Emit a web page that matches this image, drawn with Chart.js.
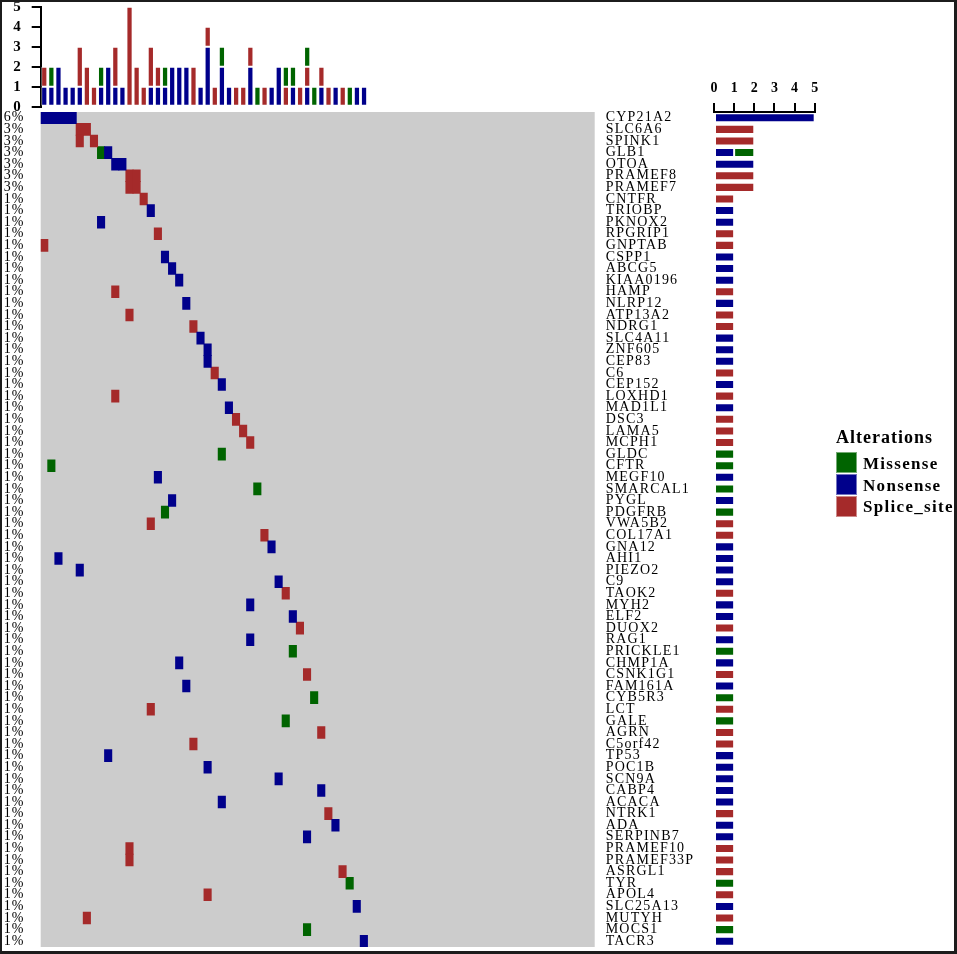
<!DOCTYPE html>
<html>
<head>
<meta charset="utf-8">
<title>Oncoplot</title>
<script src="https://cdn.jsdelivr.net/npm/chart.js@4.4.1/dist/chart.umd.min.js"></script>
<style>
  html, body { margin: 0; padding: 0; background: #fff; }
  #page { position: relative; width: 957px; height: 954px; overflow: hidden; background: #fff; font-family: "Liberation Serif", serif; color: #000; }
  #page canvas { position: absolute; }
  #topBars { left: 0; top: -14px; }
  #matrix { left: 0; top: 87px; }
  #geneBars { left: 690px; top: 60px; }
  #frame { position: absolute; left: 0; top: 0; width: 957px; height: 954px; box-sizing: border-box; border-style: solid; border-color: #1c1c1c; border-width: 2px 3px 3px 2px; pointer-events: none; }
  .lg { position: absolute; white-space: nowrap; font-weight: bold; }
  .lgTitle { left: 836px; top: 428px; font-size: 18px; line-height: 18px; letter-spacing: 1px; }
  .lgText { left: 863px; font-size: 17px; line-height: 17px; letter-spacing: 1.3px; }
  .sw { position: absolute; left: 836px; width: 21px; height: 21px; box-sizing: border-box; border: 1px solid rgba(255,255,255,0.45); }
</style>
</head>
<body>
<div id="page">
  <canvas id="matrix" width="705" height="885" style="width:705px;height:885px"></canvas>
  <canvas id="topBars" width="595" height="141" style="width:595px;height:141px"></canvas>
  <canvas id="geneBars" width="150" height="897" style="width:150px;height:897px"></canvas>

  <div class="lg lgTitle">Alterations</div>
  <div class="sw" style="top:452px;background:#006400"></div>
  <div class="sw" style="top:474px;background:#00008b"></div>
  <div class="sw" style="top:496px;background:#a52a2a"></div>
  <div class="lg lgText" style="top:455px">Missense</div>
  <div class="lg lgText" style="top:477px">Nonsense</div>
  <div class="lg lgText" style="top:498px">Splice_site</div>

  <div id="frame"></div>
</div>

<script>
// ---------- Utility ----------
function $(id) {
  return document.getElementById(id);
}

// ---------- Data ----------
const genes = [
  "CYP21A2", "SLC6A6", "SPINK1", "GLB1", "OTOA", "PRAMEF8", "PRAMEF7", "CNTFR",
  "TRIOBP", "PKNOX2", "RPGRIP1", "GNPTAB", "CSPP1", "ABCG5", "KIAA0196", "HAMP",
  "NLRP12", "ATP13A2", "NDRG1", "SLC4A11", "ZNF605", "CEP83", "C6", "CEP152",
  "LOXHD1", "MAD1L1", "DSC3", "LAMA5", "MCPH1", "GLDC", "CFTR", "MEGF10",
  "SMARCAL1", "PYGL", "PDGFRB", "VWA5B2", "COL17A1", "GNA12", "AHI1", "PIEZO2",
  "C9", "TAOK2", "MYH2", "ELF2", "DUOX2", "RAG1", "PRICKLE1", "CHMP1A",
  "CSNK1G1", "FAM161A", "CYB5R3", "LCT", "GALE", "AGRN", "C5orf42", "TP53",
  "POC1B", "SCN9A", "CABP4", "ACACA", "NTRK1", "ADA", "SERPINB7", "PRAMEF10",
  "PRAMEF33P", "ASRGL1", "TYR", "APOL4", "SLC25A13", "MUTYH", "MOCS1", "TACR3"
];

const pctLabels = [
  "6%", "3%", "3%", "3%", "3%", "3%", "3%", "1%", "1%", "1%", "1%", "1%", "1%", "1%", "1%", "1%",
  "1%", "1%", "1%", "1%", "1%", "1%", "1%", "1%", "1%", "1%", "1%", "1%", "1%", "1%", "1%", "1%",
  "1%", "1%", "1%", "1%", "1%", "1%", "1%", "1%", "1%", "1%", "1%", "1%", "1%", "1%", "1%", "1%",
  "1%", "1%", "1%", "1%", "1%", "1%", "1%", "1%", "1%", "1%", "1%", "1%", "1%", "1%", "1%", "1%",
  "1%", "1%", "1%", "1%", "1%", "1%", "1%", "1%"
];

// 78 samples, sample ids only (no tick labels drawn)
const sampleCount = 78;
const samples = [];
for (let i = 1; i <= sampleCount; i++) samples.push("S" + i);

// [gene, sample column]
const nonsenseHits = [
  ["CYP21A2", 0], ["CYP21A2", 1], ["CYP21A2", 2], ["CYP21A2", 3], ["CYP21A2", 4],
  ["GLB1", 9], ["OTOA", 10], ["OTOA", 11], ["TRIOBP", 15], ["PKNOX2", 8],
  ["CSPP1", 17], ["ABCG5", 18], ["KIAA0196", 19], ["NLRP12", 20], ["SLC4A11", 22],
  ["ZNF605", 23], ["CEP83", 23], ["CEP152", 25], ["MAD1L1", 26], ["MEGF10", 16],
  ["PYGL", 18], ["GNA12", 32], ["AHI1", 2], ["PIEZO2", 5], ["C9", 33],
  ["MYH2", 29], ["ELF2", 35], ["RAG1", 29], ["CHMP1A", 19], ["FAM161A", 20],
  ["TP53", 9], ["POC1B", 23], ["SCN9A", 33], ["CABP4", 39], ["ACACA", 25],
  ["ADA", 41], ["SERPINB7", 37], ["SLC25A13", 44], ["TACR3", 45]
];
const spliceHits = [
  ["SLC6A6", 5], ["SLC6A6", 6], ["SPINK1", 5], ["SPINK1", 7], ["PRAMEF8", 12],
  ["PRAMEF8", 13], ["PRAMEF7", 12], ["PRAMEF7", 13], ["CNTFR", 14], ["RPGRIP1", 16],
  ["GNPTAB", 0], ["HAMP", 10], ["ATP13A2", 12], ["NDRG1", 21], ["C6", 24],
  ["LOXHD1", 10], ["DSC3", 27], ["LAMA5", 28], ["MCPH1", 29], ["VWA5B2", 15],
  ["COL17A1", 31], ["TAOK2", 34], ["DUOX2", 36], ["CSNK1G1", 37], ["LCT", 15],
  ["AGRN", 39], ["C5orf42", 21], ["NTRK1", 40], ["PRAMEF10", 12], ["PRAMEF33P", 12],
  ["ASRGL1", 42], ["APOL4", 23], ["MUTYH", 6]
];
const missenseHits = [
  ["GLB1", 8], ["GLDC", 25], ["CFTR", 1], ["SMARCAL1", 30], ["PDGFRB", 17],
  ["PRICKLE1", 35], ["CYB5R3", 38], ["GALE", 34], ["TYR", 43], ["MOCS1", 37]
];

// ---------- Style ----------
const BLUE = "#00008b";
const RED = "#a52a2a";
const GREEN = "#006400";
const EDGE = "rgba(255,255,255,0.45)";
const FONT = "'Liberation Serif', 'Times New Roman', serif";

// ---------- Counts built from the hits ----------
function perSample(hits) {
  const out = samples.map(() => 0);
  hits.forEach(([, s]) => out[s]++);
  return out;
}
function perGene(hits) {
  const out = genes.map(() => 0);
  hits.forEach(([g]) => out[genes.indexOf(g)]++);
  return out;
}
function cells(hits) {
  return hits.map(([g, s]) => ({ y: g, x: [s, s + 1] }));
}

// ---------- Plugins ----------
const greyBg = {
  id: "greyBg",
  beforeDatasetsDraw(chart) {
    const { ctx, chartArea: a } = chart;
    ctx.save();
    ctx.fillStyle = "#cccccc";
    ctx.fillRect(a.left, a.top, a.right - a.left, a.bottom - a.top);
    ctx.restore();
  },
};
const spacing = {
  id: "spacing",
  beforeDraw(chart, args, opts) {
    chart.ctx.letterSpacing = opts.px || "0px";
  },
};

// ---------- Top bars (mutations per sample) ----------
new Chart($("topBars"), {
  type: "bar",
  data: {
    labels: samples,
    datasets: [
      { label: "Nonsense", data: perSample(nonsenseHits), backgroundColor: BLUE },
      { label: "Splice_site", data: perSample(spliceHits), backgroundColor: RED },
      { label: "Missense", data: perSample(missenseHits), backgroundColor: GREEN },
    ],
  },
  options: {
    responsive: false,
    animation: false,
    layout: { padding: { top: 20.7, bottom: 20.3, left: 0, right: 0 } },
    datasets: {
      bar: { categoryPercentage: 1, barPercentage: 0.88, borderWidth: 1, borderColor: EDGE, borderSkipped: false },
    },
    plugins: { legend: { display: false }, tooltip: { enabled: false } },
    scales: {
      x: { stacked: true, display: false },
      y: {
        stacked: true,
        min: 0,
        max: 5,
        ticks: { stepSize: 1, autoSkip: false, color: "#000", padding: 11, font: { family: FONT, size: 15, weight: "bold" } },
        grid: { drawOnChartArea: false, tickLength: 9, color: "#000", lineWidth: 2 },
        border: { display: true, color: "#000", width: 2 },
        afterFit(s) { s.width = 40.7; },
      },
    },
  },
});

// ---------- Matrix ----------
new Chart($("matrix"), {
  type: "bar",
  data: {
    labels: genes,
    datasets: [
      { label: "Nonsense", data: cells(nonsenseHits), backgroundColor: BLUE, yAxisID: "y" },
      { label: "Splice_site", data: cells(spliceHits), backgroundColor: RED, yAxisID: "y" },
      { label: "Missense", data: cells(missenseHits), backgroundColor: GREEN, yAxisID: "y" },
    ],
  },
  options: {
    indexAxis: "y",
    responsive: false,
    animation: false,
    layout: { padding: { top: 25, bottom: 25, left: 0, right: 0 } },
    datasets: {
      bar: { grouped: false, categoryPercentage: 1, barPercentage: 1, borderWidth: 0, inflateAmount: 0.5 },
    },
    plugins: { legend: { display: false }, tooltip: { enabled: false }, spacing: { px: "1.2px" } },
    scales: {
      y: {
        type: "category",
        labels: genes,
        position: "right",
        offset: true,
        grid: { display: false, drawTicks: false },
        border: { display: false },
        ticks: { color: "#000", padding: 11, autoSkip: false, font: { family: FONT, size: 14 } },
        afterFit(s) { s.width = 705 - 594.7; },
      },
      yl: {
        type: "category",
        labels: pctLabels,
        position: "left",
        offset: true,
        grid: { display: false, drawTicks: false },
        border: { display: false },
        ticks: { color: "#000", padding: 16, autoSkip: false, font: { family: FONT, size: 14 } },
        afterFit(s) { s.width = 40.7; },
      },
      x: { type: "linear", min: 0, max: sampleCount, display: false },
    },
  },
  plugins: [greyBg, spacing],
});

// ---------- Gene bars (mutations per gene) ----------
new Chart($("geneBars"), {
  type: "bar",
  data: {
    labels: genes,
    datasets: [
      { label: "Nonsense", data: perGene(nonsenseHits), backgroundColor: BLUE },
      { label: "Splice_site", data: perGene(spliceHits), backgroundColor: RED },
      { label: "Missense", data: perGene(missenseHits), backgroundColor: GREEN },
    ],
  },
  options: {
    indexAxis: "y",
    responsive: false,
    animation: false,
    layout: { padding: { top: 0, bottom: 10, left: 24, right: 25.3 } },
    datasets: {
      bar: { categoryPercentage: 1, barPercentage: 0.78, borderWidth: 1, borderColor: EDGE, borderSkipped: false },
    },
    plugins: { legend: { display: false }, tooltip: { enabled: false } },
    scales: {
      x: {
        position: "top",
        stacked: true,
        min: 0,
        max: 5,
        ticks: { stepSize: 1, color: "#000", padding: 6, font: { family: FONT, size: 14, weight: "bold" } },
        grid: { drawOnChartArea: false, tickLength: 9, color: "#000", lineWidth: 2 },
        border: { display: true, color: "#000", width: 2 },
        afterFit(s) { s.height = 52; },
      },
      y: { stacked: true, display: false, offset: true },
    },
  },
});
</script>
</body>
</html>
